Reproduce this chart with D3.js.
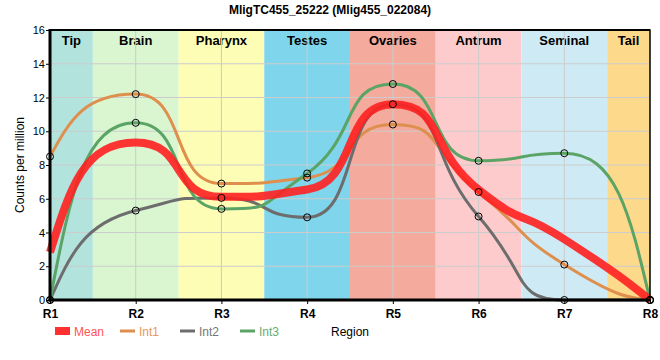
<!DOCTYPE html>
<meta charset="utf-8">
<style>
  body { margin: 0; background: #fff; }
  text { font-family: 'Liberation Sans', Arial, sans-serif; }
  .band text { font-weight: bold; font-size: 13px; }
</style>
<body>
<script src="https://d3js.org/d3.v7.min.js"></script>
<script>
  // chart data
  var regions = ["R1", "R2", "R3", "R4", "R5", "R6", "R7", "R8"];
  var int1 = [8.5, 12.2, 6.9, 7.25, 10.4, 6.4, 2.1, 0];
  var int2 = [0, 5.3, 6.05, 4.9, 11.6, 4.95, 0, 0];
  var int3 = [0, 10.5, 5.4, 7.5, 12.8, 8.25, 8.7, 0];
  var mean = int1.map(function(v, i) { return (v + int2[i] + int3[i]) / 3; });
  var yTicks = [0, 2, 4, 6, 8, 10, 12, 14, 16];
  // tissue bands: name, start and end position in region index units
  var bandNames = ["Tip", "Brain", "Pharynx", "Testes", "Ovaries", "Antrum", "Seminal", "Tail"];
  var bandStart = [0, 0.5, 1.5, 2.5, 3.5, 4.5, 5.5, 6.5];
  var bandEnd = [0.5, 1.5, 2.5, 3.5, 4.5, 5.5, 6.5, 7];
  var bandColors = ["#b3e3dd", "#d9f6d0", "#fdfdb6", "#7fd5eb", "#f4aa9c", "#fdcbcb", "#ceebf5", "#fdd98b"];

  var width = 660, height = 360;
  var mLeft = 50, mRight = 650, mTop = 30, mBottom = 300;

  // smooth spline: control points at a fraction of the gap, no false extremes
  var ctrl = 0.6, endPull = 0.6;
  function Spline(context) { this._context = context; }
  Spline.prototype = {
    areaStart: function() {}, areaEnd: function() {},
    lineStart: function() { this._p = []; },
    point: function(x, y) { this._p.push([+x, +y]); },
    lineEnd: function() {
      var p = this._p, c = this._context, n = p.length;
      var L = [], R = [];
      for (var i = 1; i < n - 1; i++) {
        var x = p[i][0], y = p[i][1], lx = p[i - 1][0], ly = p[i - 1][1], nx = p[i + 1][0], ny = p[i + 1][1];
        var lcx = x - ctrl * (x - lx), lcy = y - ctrl * (y - ly);
        var rcx = x + ctrl * (nx - x), rcy = y + ctrl * (ny - y);
        var corr = (rcy - lcy) * (rcx - x) / (rcx - lcx) + y - rcy;
        lcy += corr; rcy += corr;
        if (lcy > ly && lcy > y) { lcy = Math.max(ly, y); rcy = 2 * y - lcy; }
        else if (lcy < ly && lcy < y) { lcy = Math.min(ly, y); rcy = 2 * y - lcy; }
        if (rcy > ny && rcy > y) { rcy = Math.max(ny, y); lcy = 2 * y - rcy; }
        else if (rcy < ny && rcy < y) { rcy = Math.min(ny, y); lcy = 2 * y - rcy; }
        L[i] = [lcx, lcy]; R[i] = [rcx, rcy];
      }
      // end points pull their control towards the neighbour's control
      if (n > 2) {
        R[0] = [p[0][0] + endPull * (L[1][0] - p[0][0]), p[0][1] + endPull * (L[1][1] - p[0][1])];
        L[n - 1] = [p[n - 1][0] + endPull * (R[n - 2][0] - p[n - 1][0]), p[n - 1][1] + endPull * (R[n - 2][1] - p[n - 1][1])];
      }
      c.moveTo(p[0][0], p[0][1]);
      for (var j = 1; j < n; j++) {
        var a = R[j - 1] || p[j - 1], b = L[j] || p[j];
        c.bezierCurveTo(a[0], a[1], b[0], b[1], p[j][0], p[j][1]);
      }
    }
  };
  var curveSpline = function(context) { return new Spline(context); };

  var svg = d3.select("body").append("svg")
    .attr("width", width)
    .attr("height", height);

  var x = d3.scaleLinear().domain([0, regions.length - 1]).range([mLeft, mRight]);
  var y = d3.scaleLinear().domain([0, 16]).range([mBottom, mTop]);

  /* background bands */
  var band = svg.append("g").attr("class", "band")
    .selectAll("g").data(bandNames).enter().append("g");
  band.append("rect")
    .attr("x", function(d, i) { return x(bandStart[i]); })
    .attr("y", mTop)
    .attr("width", function(d, i) { return x(bandEnd[i]) - x(bandStart[i]); })
    .attr("height", mBottom - mTop)
    .attr("fill", function(d, i) { return bandColors[i]; });

  /* grid */
  svg.append("g").selectAll("line").data(yTicks.slice(1)).enter().append("line")
    .attr("x1", mLeft).attr("x2", mRight)
    .attr("y1", function(d) { return y(d); }).attr("y2", function(d) { return y(d); })
    .attr("stroke", "#cccccc").attr("stroke-width", 1);
  svg.append("g").selectAll("line").data(d3.range(1, regions.length - 1)).enter().append("line")
    .attr("y1", mTop).attr("y2", mBottom)
    .attr("x1", function(d) { return x(d); }).attr("x2", function(d) { return x(d); })
    .attr("stroke", "#cccccc").attr("stroke-width", 1);

  band.append("text")
    .attr("x", function(d, i) { return (x(bandStart[i]) + x(bandEnd[i])) / 2; })
    .attr("y", mTop + 15)
    .attr("text-anchor", "middle")
    .text(function(d) { return d; });

  /* lines */
  var line = d3.line()
    .x(function(d, i) { return x(i); })
    .y(function(d) { return y(d); })
    .curve(curveSpline);

  var series = [
    { name: "Int1", values: int1, color: "#df8f4d" },
    { name: "Int2", values: int2, color: "#6d6d6d" },
    { name: "Int3", values: int3, color: "#5ba466" }
  ];

  svg.append("g").selectAll("path").data(series).enter().append("path")
    .attr("d", function(d) { return line(d.values); })
    .attr("fill", "none")
    .attr("stroke", function(d) { return d.color; })
    .attr("stroke-width", 3);

  svg.append("path")
    .attr("d", line(mean))
    .attr("fill", "none")
    .attr("stroke", "#ff2020")
    .attr("stroke-opacity", 0.9)
    .attr("stroke-width", 8);

  series.forEach(function(s) {
    svg.append("g").selectAll("circle").data(s.values).enter().append("circle")
      .attr("cx", function(d, i) { return x(i); })
      .attr("cy", function(d) { return y(d); })
      .attr("r", 3.5)
      .attr("fill", "none")
      .attr("stroke", "#000")
      .attr("stroke-width", 1);
  });

  /* frame and axes */
  svg.append("rect")
    .attr("x", mLeft).attr("y", mTop)
    .attr("width", mRight - mLeft).attr("height", mBottom - mTop)
    .attr("fill", "none").attr("stroke", "#000").attr("stroke-width", 1.5);
  svg.append("line").attr("x1", mLeft).attr("x2", mRight).attr("y1", mTop).attr("y2", mTop)
    .attr("stroke", "#000").attr("stroke-width", 2);
  svg.append("line").attr("x1", mLeft).attr("x2", mLeft).attr("y1", mTop - 1).attr("y2", mBottom + 1.5)
    .attr("stroke", "#000").attr("stroke-width", 3);
  svg.append("line").attr("x1", mLeft - 1.5).attr("x2", mRight).attr("y1", mBottom).attr("y2", mBottom)
    .attr("stroke", "#000").attr("stroke-width", 3);

  var yAxis = svg.append("g")
    .attr("transform", "translate(" + mLeft + ",0)")
    .call(d3.axisLeft(y).tickValues(yTicks).tickSize(4).tickSizeOuter(0));
  yAxis.select(".domain").remove();
  yAxis.selectAll("text").attr("font-size", 11).attr("font-family", "'Liberation Sans', Arial, sans-serif").attr("fill", "#000").attr("dx", 2);

  var xAxis = svg.append("g")
    .attr("transform", "translate(0," + mBottom + ")")
    .call(d3.axisBottom(x).tickValues(d3.range(regions.length))
      .tickFormat(function(i) { return regions[i]; }).tickSize(4).tickSizeOuter(0));
  xAxis.select(".domain").remove();
  xAxis.selectAll("text").attr("font-size", 12).attr("font-weight", "bold")
    .attr("font-family", "'Liberation Sans', Arial, sans-serif").attr("fill", "#000").attr("dy", "0.9em");

  /* title and labels */
  svg.append("text")
    .attr("x", 330).attr("y", 14)
    .attr("text-anchor", "middle")
    .attr("font-weight", "bold").attr("font-size", 12)
    .text("MligTC455_25222 (Mlig455_022084)");

  svg.append("text")
    .attr("transform", "translate(24," + ((mTop + mBottom) / 2) + ") rotate(-90)")
    .attr("text-anchor", "middle")
    .attr("font-size", 12)
    .text("Counts per million");

  svg.append("text")
    .attr("x", 331).attr("y", 336)
    .attr("font-size", 12)
    .text("Region");

  /* legend */
  var legend = [
    { name: "Mean", color: "#ff3030", text: "#ff5555", w: 8, x: 55 },
    { name: "Int1", color: "#df8f4d", text: "#e8995a", w: 3, x: 120 },
    { name: "Int2", color: "#6d6d6d", text: "#777777", w: 3, x: 180 },
    { name: "Int3", color: "#5ba466", text: "#66ad70", w: 3, x: 240 }
  ];
  var lg = svg.append("g").selectAll("g").data(legend).enter().append("g")
    .attr("transform", function(d) { return "translate(" + d.x + ",331)"; });
  lg.append("line")
    .attr("x1", 0).attr("x2", 15).attr("y1", 0).attr("y2", 0)
    .attr("stroke", function(d) { return d.color; })
    .attr("stroke-width", function(d) { return d.w; });
  lg.append("text")
    .attr("x", 19).attr("y", 4.5)
    .attr("font-size", 12)
    .attr("fill", function(d) { return d.text; })
    .text(function(d) { return d.name; });
</script>
</body>
